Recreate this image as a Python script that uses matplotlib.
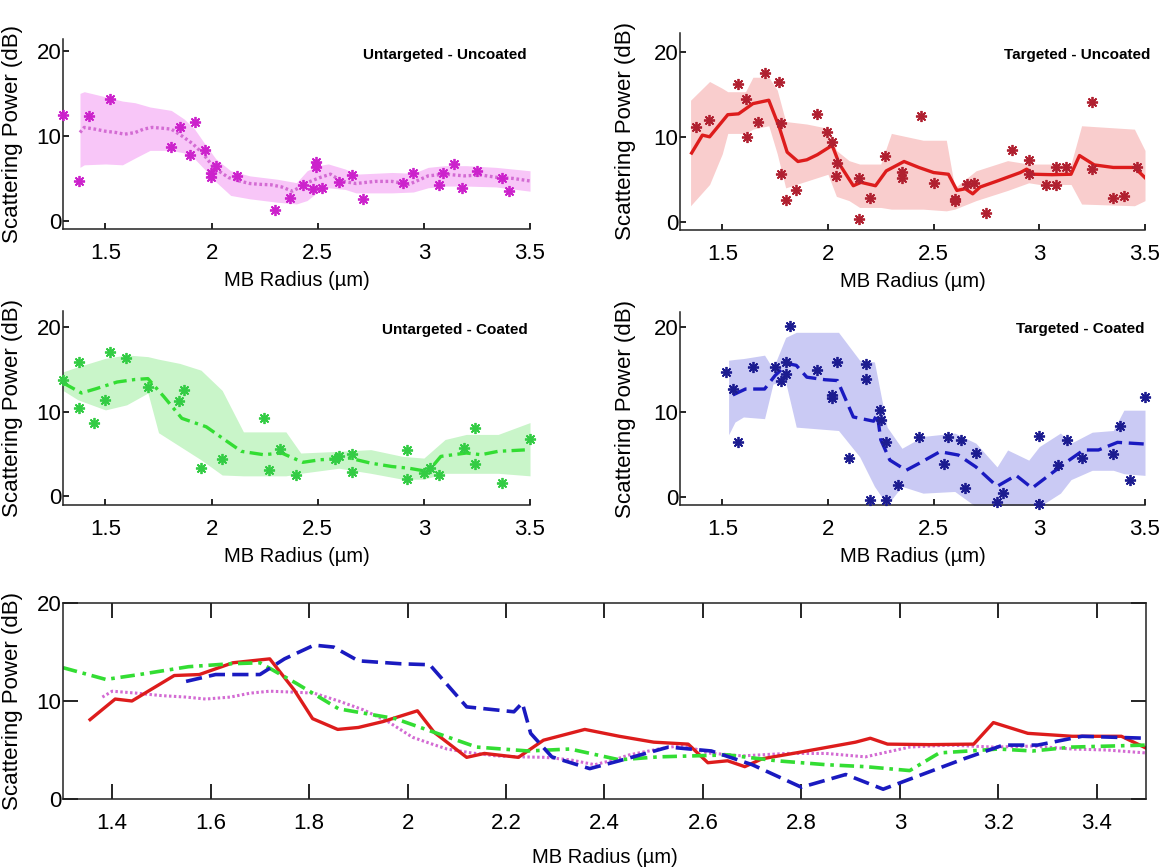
import matplotlib
matplotlib.use("Agg")
import matplotlib.pyplot as plt

plt.rcParams["font.family"] = ["Liberation Sans", "DejaVu Sans"]

# ---- Untargeted - Uncoated (magenta) ----
uu_pts_x = [1.30, 1.377, 1.424, 1.522, 1.808, 1.85, 1.90, 1.92, 1.97, 1.996, 1.996, 2.02, 2.12, 2.30, 2.37, 2.43,
            2.48, 2.49, 2.49, 2.52, 2.60, 2.66, 2.715, 2.90, 2.95, 3.07, 3.09, 3.14, 3.18, 3.25, 3.37, 3.40]
uu_pts_y = [12.5, 4.7, 12.4, 14.4, 8.7, 11.1, 7.8, 11.6, 8.3, 5.6, 5.2, 6.5, 5.3, 1.3, 2.7, 4.2,
            3.7, 6.9, 6.3, 3.9, 4.6, 5.4, 2.6, 4.5, 5.6, 4.2, 5.6, 6.7, 3.9, 5.9, 5.1, 3.5]
uu_x = [1.38, 1.40, 1.45, 1.50, 1.55, 1.59, 1.64, 1.68, 1.72, 1.77, 1.81, 1.86, 1.91, 1.96, 2.01, 2.05, 2.08, 2.13,
        2.18, 2.23, 2.28, 2.33, 2.38, 2.42, 2.45, 2.51, 2.56, 2.61, 2.68, 2.77, 2.85, 2.93, 3.02, 3.10, 3.19, 3.27,
        3.35, 3.42, 3.5]
uu_y = [10.4, 11.0, 10.8, 10.55, 10.4, 10.2, 10.4, 10.8, 11.0, 10.9, 10.8, 10.0, 9.1, 7.9, 6.3, 5.6, 5.1, 4.7,
        4.4, 4.3, 4.25, 4.0, 3.5, 4.0, 4.5, 5.1, 5.5, 4.7, 4.4, 4.65, 4.65, 4.3, 5.3, 5.5, 5.3, 5.4,
        5.1, 5.0, 4.7]
uu_bx = [1.38, 1.40, 1.50, 1.58, 1.64, 1.71, 1.81, 1.87, 1.92, 1.97, 2.02, 2.09, 2.18, 2.31, 2.40, 2.45, 2.50,
         2.55, 2.63, 2.68, 2.85, 2.95, 3.02, 3.10, 3.20, 3.34, 3.5]
uu_hi = [15.0, 15.2, 14.6, 14.1, 13.9, 13.4, 13.0, 12.0, 10.8, 9.0, 7.3, 5.9, 5.3, 4.9, 4.5, 5.9, 6.5,
         6.7, 6.1, 5.5, 5.7, 5.6, 6.3, 6.5, 6.5, 6.3, 5.9]
uu_lo = [6.3, 6.6, 6.7, 6.6, 7.4, 8.3, 8.3, 8.0, 7.3, 6.0, 4.6, 3.0, 2.6, 2.2, 2.0, 2.4, 3.4,
         3.9, 3.7, 3.3, 3.3, 3.4, 3.9, 4.1, 4.1, 4.0, 3.5]

# ---- Targeted - Uncoated (red) ----
tu_pts_x = [1.376, 1.437, 1.573, 1.614, 1.619, 1.67, 1.70, 1.768, 1.778, 1.776, 1.80, 1.85, 1.95, 1.994, 2.02,
            2.045, 2.04, 2.148, 2.148, 2.20, 2.27, 2.35, 2.35, 2.44, 2.50, 2.60, 2.60, 2.66, 2.69, 2.75, 2.87,
            2.95, 2.95, 3.03, 3.08, 3.08, 3.125, 3.25, 3.25, 3.35, 3.40, 3.46]
tu_pts_y = [11.1, 12.0, 16.2, 14.4, 10.0, 11.7, 17.5, 16.5, 11.6, 5.6, 2.6, 3.7, 12.7, 10.6, 9.4,
            6.9, 5.4, 5.2, 0.3, 2.8, 7.8, 5.9, 5.2, 12.5, 4.6, 2.7, 2.4, 4.5, 4.6, 1.0, 8.4,
            7.3, 5.6, 4.3, 6.4, 4.3, 6.4, 14.1, 6.2, 2.8, 3.0, 6.4]
tu_x = [1.355, 1.406, 1.44, 1.526, 1.577, 1.645, 1.72, 1.77, 1.807, 1.858, 1.90, 1.95, 2.02, 2.054, 2.12, 2.156,
        2.225, 2.276, 2.36, 2.43, 2.50, 2.57, 2.61, 2.65, 2.685, 2.72, 2.80, 2.91, 2.94, 2.975, 3.06, 3.15, 3.19,
        3.26, 3.35, 3.45, 3.5]
tu_y = [8.1, 10.2, 10.0, 12.6, 12.7, 13.9, 14.3, 11.1, 8.2, 7.1, 7.3, 7.9, 9.0, 6.8, 4.25, 4.65,
        4.25, 6.0, 7.1, 6.4, 5.8, 5.6, 3.7, 3.9, 3.3, 4.1, 4.8, 5.8, 6.2, 5.6, 5.55, 5.6, 7.8,
        6.7, 6.4, 6.4, 5.2]
tu_bx = [1.35, 1.44, 1.50, 1.526, 1.61, 1.645, 1.72, 1.76, 1.80, 1.90, 2.00, 2.04, 2.10, 2.15, 2.25, 2.30, 2.45,
         2.56, 2.60, 2.70, 2.85, 2.95, 3.00, 3.15, 3.20, 3.45, 3.5]
tu_hi = [14.3, 16.5, 15.7, 15.3, 15.3, 17.0, 17.0, 15.5, 11.8, 11.5, 11.0, 8.4, 7.2, 6.8, 6.8, 10.4, 9.6,
         9.6, 4.0, 6.0, 7.2, 6.8, 6.8, 6.8, 11.3, 10.9, 8.4]
tu_lo = [1.9, 4.4, 8.0, 10.4, 10.4, 10.9, 11.3, 8.0, 4.0, 4.8, 5.6, 3.0, 2.5, 1.7, 1.7, 1.5, 1.5,
         1.3, 1.5, 2.5, 3.7, 4.6, 4.4, 4.4, 2.1, 1.9, 2.5]

# ---- Untargeted - Coated (green) ----
uc_pts_x = [1.30, 1.374, 1.374, 1.448, 1.497, 1.52, 1.597, 1.70, 1.846, 1.87, 1.95, 2.05, 2.245, 2.27, 2.32,
            2.40, 2.58, 2.60, 2.66, 2.66, 2.92, 2.92, 3.0, 3.03, 3.07, 3.19, 3.24, 3.24, 3.37, 3.5]
uc_pts_y = [13.7, 15.9, 10.4, 8.7, 11.4, 17.0, 16.3, 12.9, 11.2, 12.5, 3.3, 4.4, 9.2, 3.1, 5.6,
            2.5, 4.4, 4.8, 5.0, 2.9, 5.4, 2.0, 2.7, 3.3, 2.5, 5.7, 8.1, 3.8, 1.6, 6.7]
uc_x = [1.30, 1.387, 1.455, 1.555, 1.64, 1.70, 1.774, 1.86, 1.975, 2.06, 2.14, 2.245, 2.33, 2.43, 2.51, 2.65,
        2.75, 2.85, 2.93, 3.02, 3.08, 3.2, 3.27, 3.35, 3.5]
uc_y = [13.4, 12.2, 12.7, 13.5, 13.8, 13.9, 11.8, 9.2, 8.2, 6.7, 5.3, 4.9, 5.1, 4.0, 4.3, 4.5,
        3.9, 3.5, 3.3, 2.9, 4.7, 5.1, 4.9, 5.3, 5.5]
uc_bx = [1.30, 1.37, 1.50, 1.60, 1.70, 1.75, 1.85, 1.95, 2.05, 2.15, 2.35, 2.42, 2.60, 2.75, 2.90, 3.00, 3.10,
         3.20, 3.35, 3.5]
uc_hi = [14.7, 15.3, 16.3, 16.7, 16.5, 16.2, 15.7, 14.9, 12.5, 7.6, 7.6, 5.1, 5.3, 5.5, 4.7, 4.5, 6.7,
         7.3, 7.3, 8.7]
uc_lo = [12.5, 11.4, 10.2, 10.8, 12.2, 7.5, 5.9, 4.3, 2.5, 2.4, 2.4, 2.7, 3.3, 2.7, 2.0, 2.0, 2.7,
         2.7, 2.7, 2.4]

# ---- Targeted - Coated (blue) ----
tc_pts_x = [1.52, 1.55, 1.573, 1.645, 1.75, 1.776, 1.80, 1.80, 1.82, 1.95, 2.02, 2.02, 2.045, 2.10, 2.18, 2.18,
            2.245, 2.25, 2.276, 2.276, 2.20, 2.33, 2.43, 2.55, 2.57, 2.63, 2.65, 2.70, 2.80, 2.83, 3.0, 3.0,
            3.09, 3.13, 3.20, 3.35, 3.38, 3.43, 3.50]
tc_pts_y = [14.7, 12.7, 6.4, 15.3, 15.3, 13.7, 15.9, 14.5, 20.1, 14.9, 12.0, 11.6, 15.9, 4.5, 15.7, 13.9,
            10.2, 9.0, 6.4, -0.4, -0.4, 1.4, 7.0, 3.9, 7.0, 6.7, 1.0, 5.1, -0.6, 0.4, 7.1, -0.9,
            3.7, 6.7, 4.5, 5.0, 8.3, 2.0, 11.7]
tc_x = [1.55, 1.61, 1.70, 1.75, 1.81, 1.85, 1.90, 1.986, 2.045, 2.12, 2.216, 2.233, 2.25, 2.293, 2.37, 2.43,
        2.53, 2.617, 2.70, 2.80, 2.89, 2.966, 3.04, 3.13, 3.21, 3.28, 3.37, 3.5]
tc_y = [12.0, 12.7, 12.7, 14.3, 15.7, 15.5, 14.1, 13.8, 13.7, 9.4, 8.9, 9.8, 6.7, 4.3, 3.1, 3.9,
        5.3, 4.9, 3.5, 1.2, 2.5, 1.0, 2.4, 4.1, 5.5, 5.5, 6.4, 6.2]
tc_bx = [1.53, 1.56, 1.60, 1.70, 1.74, 1.80, 1.85, 2.05, 2.15, 2.22, 2.28, 2.35, 2.45, 2.60, 2.70, 2.80, 2.85,
         2.95, 3.00, 3.10, 3.15, 3.25, 3.35, 3.40, 3.5]
tc_hi = [16.1, 16.2, 16.3, 16.7, 15.1, 18.8, 19.4, 19.4, 16.1, 15.9, 8.2, 5.7, 7.1, 7.5, 6.3, 3.5, 5.5,
         4.3, 5.9, 7.5, 6.3, 7.6, 7.8, 10.2, 10.2]
tc_lo = [7.3, 8.8, 9.4, 9.2, 13.3, 13.5, 8.2, 7.8, 4.7, 1.2, -1.0, 1.2, 0.4, 0.6, -1.2, -1.2, -1.2,
         -1.2, -1.2, 0.4, 2.0, 3.1, 3.1, 2.7, 2.5]

top_ticks = [1.5, 2, 2.5, 3, 3.5]
top_labels = ["1.5", "2", "2.5", "3", "3.5"]
bot_ticks = [1.4, 1.6, 1.8, 2.0, 2.2, 2.4, 2.6, 2.8, 3.0, 3.2, 3.4]
bot_labels = ["1.4", "1.6", "1.8", "2", "2.2", "2.4", "2.6", "2.8", "3", "3.2", "3.4"]

W, H = 1167, 868
fig = plt.figure(figsize=(W / 100, H / 100), dpi=100)


def add_ax(l, t, r, b):
    return fig.add_axes([l / W, 1 - b / H, (r - l) / W, (b - t) / H])


def style(ax, ylim, ticklen, xpad, lpad, ylab_x, box=False):
    ax.set_xlim(1.3, 3.5)
    ax.set_ylim(*ylim)
    ax.set_yticks([0, 10, 20])
    ax.set_yticklabels(["0", "10", "20"])
    for s in ["top", "right"]:
        ax.spines[s].set_visible(box)
    for s in ax.spines.values():
        s.set_linewidth(1.1)
        s.set_color("#222222")
    ax.tick_params(direction="in", length=ticklen, width=1.2, labelsize=16, top=box, right=box)
    ax.tick_params(axis="x", pad=xpad)
    ax.tick_params(axis="y", pad=1)
    ax.set_xlabel("MB Radius (µm)", fontsize=14.5, labelpad=lpad)
    ax.set_ylabel("Scattering Power (dB)", fontsize=16)
    ax.yaxis.set_label_coords(ylab_x, 0.5)


# colours: line, marker, band
MAG = ("#d36bd3", "#cc22cc", "#f8c6f8")
RED = ("#dd1c1c", "#b02030", "#f9cdcd")
GRN = ("#33dd33", "#33cc44", "#c9f5c9")
BLU = ("#1a1ac0", "#1c1c90", "#cacaf4")

ls_mag = (0, (0.8, 0.8))
ls_red = "-"
ls_grn = (0, (4, 1.6, 1, 1.6))
ls_blu = (0, (4.5, 2))

panels = [
    ((63, 39, 530, 229), (-0.95, 21.4), "Untargeted - Uncoated", 527, 55, -0.086,
     uu_pts_x, uu_pts_y, uu_x, uu_y, uu_bx, uu_hi, uu_lo, MAG, ls_mag),
    ((680, 33, 1145, 230), (-0.95, 22.2), "Targeted - Uncoated", 1150, 55, -0.095,
     tu_pts_x, tu_pts_y, tu_x, tu_y, tu_bx, tu_hi, tu_lo, RED, ls_red),
    ((63, 311, 530, 505), (-1.05, 21.9), "Untargeted - Coated", 528, 330, -0.086,
     uc_pts_x, uc_pts_y, uc_x, uc_y, uc_bx, uc_hi, uc_lo, GRN, ls_grn),
    ((680, 312, 1145, 505), (-1.0, 21.8), "Targeted - Coated", 1144, 329, -0.095,
     tc_pts_x, tc_pts_y, tc_x, tc_y, tc_bx, tc_hi, tc_lo, BLU, ls_blu),
]

for box, ylim, title, tx, ty, ylx, px, py, mx, my, bx, hi, lo, col, ls in panels:
    ax = add_ax(*box)
    ax.fill_between(bx, lo, hi, color=col[2], lw=0, zorder=1)
    ax.plot(mx, my, color=col[0], ls=ls, lw=2.4, zorder=3)
    ax.plot(px, py, ls="none", marker=(8, 2, 0), ms=8, mew=1.3, color=col[1], zorder=4, clip_on=False)
    style(ax, ylim, 4, 10, 5, ylx)
    ax.set_xticks(top_ticks)
    ax.set_xticklabels(top_labels)
    fig.text(tx / W, 1 - ty / H, title, ha="right", va="center", fontsize=11, weight="bold")

# bottom: all mean curves together
ax5 = add_ax(63, 603, 1146, 799)
ax5.plot(uu_x, uu_y, color=MAG[0], ls=ls_mag, lw=2.2)
ax5.plot(tu_x, tu_y, color=RED[0], ls=ls_red, lw=2.4)
ax5.plot(uc_x, uc_y, color=GRN[0], ls=ls_grn, lw=2.6)
ax5.plot(tc_x, tc_y, color=BLU[0], ls=ls_blu, lw=2.6)
style(ax5, (0, 20), 11, 10, 10, -0.037, box=True)
ax5.set_xticks(bot_ticks)
ax5.set_xticklabels(bot_labels)

fig.savefig("out.png", dpi=100)
